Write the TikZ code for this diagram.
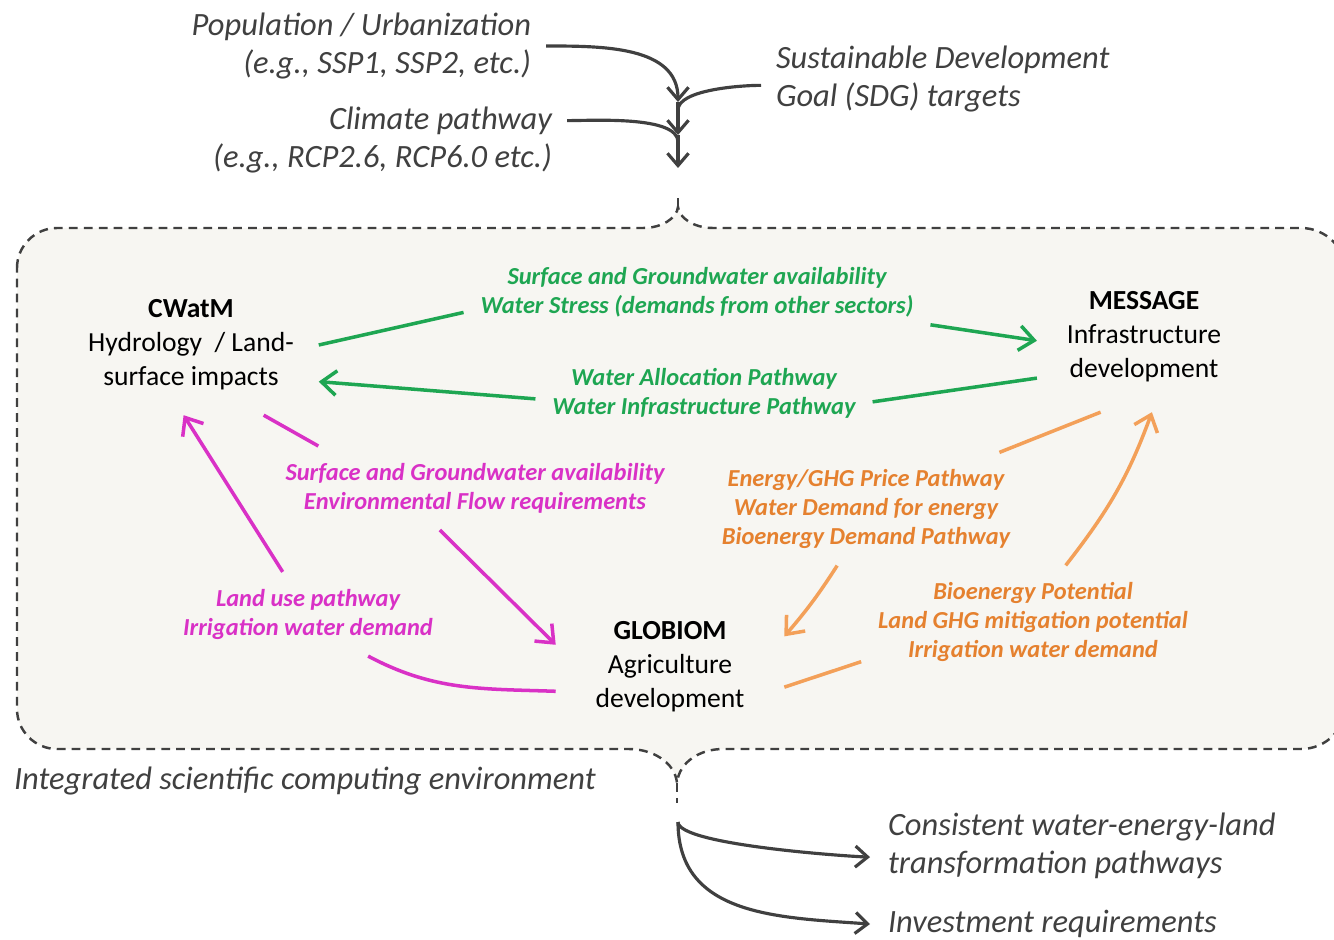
\documentclass[tikz,border=0pt]{standalone}
\usepackage{fontspec}
\setmainfont{Carlito}
\usetikzlibrary{arrows.meta}
\definecolor{wgreen}{HTML}{1EA652}
\definecolor{lmagenta}{HTML}{D931C6}
\definecolor{etext}{HTML}{E5812F}
\definecolor{eline}{HTML}{F3A059}
\definecolor{boxfill}{HTML}{F7F6F2}
\definecolor{darkline}{HTML}{404040}
\begin{document}
\begin{tikzpicture}[x=0.02cm, y=-0.02cm,
  frame/.style={draw=darkline, line width=1.4pt, dash pattern=on 5pt off 3.5pt},
  flow/.style={draw=darkline, line width=1.8pt},
  tip/.style={-{Straight Barb[length=7pt,width=12pt]}},
  ctip/.style={-{Straight Barb[length=8.5pt,width=14pt]}},
  intext/.style={inner sep=0, outer sep=0.3cm, text=darkline, font=\fontsize{18.5}{21.5}\selectfont\itshape},
  model/.style={inner sep=0, outer sep=0.5cm, align=center, font=\fontsize{15.7}{19.3}\selectfont},
  link/.style={inner sep=0, outer sep=0.34cm, align=center, font=\fontsize{13.9}{16.5}\selectfont\bfseries\itshape},
  wlink/.style={draw=wgreen, line width=2pt},
  mlink/.style={draw=lmagenta, line width=2pt},
  olink/.style={draw=eline, line width=2pt}]
\useasboundingbox (0,0) rectangle (1334,939);

\filldraw[frame, fill=boxfill] (17,268) .. controls (17,246) and (35,228) .. (57,228) -- (643,228) .. controls (662,228) and (677,218) .. (678,207) .. controls (679,218) and (694,228) .. (713,228) -- (1301,228) .. controls (1326,228) and (1346,248) .. (1346,273) -- (1346,704) .. controls (1346,729) and (1326,749) .. (1301,749) -- (723,749) .. controls (700,749) and (679,762) .. (677,783) .. controls (675,762) and (652,749) .. (629,749) -- (57,749) .. controls (35,749) and (17,731) .. (17,709) -- cycle;
\draw[frame] (678,207) -- (678,193);
\draw[frame] (677,783) -- (677,803);

\node (pop) [intext, align=right, anchor=east] at (546,46) {Population / Urbanization\\(e.g., SSP1, SSP2, etc.)};
\node (clim) [intext, align=right, anchor=east] at (567,140) {Climate pathway\\(e.g., RCP2.6, RCP6.0 etc.)};
\node (sdg) [intext, align=left, anchor=west] at (761,79) {Sustainable Development\\Goal (SDG) targets};
\coordinate (t1) at (678,102);
\coordinate (t2) at (678,135);
\coordinate (t3) at (678,168);
\coordinate (j2) at (678,110);
\coordinate (j3) at (678,142);

\draw[flow, tip] (pop.east) to[out=0, in=90] (t1);
\draw[flow, tip] (t1) -- (t2);
\draw[flow, tip] (t2) -- (t3);
\draw[flow] (sdg.182) to[out=180, in=90, looseness=0.6] (j2);
\draw[flow] (clim.6) to[out=0, in=90, looseness=0.6] (j3);

\node (cwatm) [model] at (191,345) {\textbf{CWatM}\\Hydrology~ / Land-\\surface impacts};
\node (msg) [model, outer sep=0.6cm] at (1144,337) {\textbf{MESSAGE}\\Infrastructure\\development};
\node (glob) [model, outer sep=0.8cm] at (670,667) {\textbf{GLOBIOM}\\Agriculture\\development};

\node (sgw) [link, text=wgreen] at (697,292) {Surface and Groundwater availability\\Water Stress (demands from other sectors)};
\node (wap) [link, text=wgreen] at (704,393) {Water Allocation Pathway\\Water Infrastructure Pathway};
\node (efr) [link, text=lmagenta] at (475,488) {Surface and Groundwater availability\\Environmental Flow requirements};
\node (lup) [link, text=lmagenta] at (308,614) {Land use pathway\\Irrigation water demand};
\node (ghg) [link, text=etext] at (866,509) {Energy/GHG Price Pathway\\Water Demand for energy\\Bioenergy Demand Pathway};
\node (bio) [link, text=etext] at (1033,622) {Bioenergy Potential\\Land GHG mitigation potential\\Irrigation water demand};

\draw[wlink] (cwatm.east) -- (sgw.185);
\draw[wlink, ctip] (sgw.-8) -- (msg.182);
\draw[wlink] (msg.-159) -- (wap.-3);
\draw[wlink, ctip] (wap.182) -- (cwatm.-16);
\draw[mlink] (cwatm.-44) -- (efr.165);
\draw[mlink, ctip] (efr.-130) -- (glob.169);
\draw[mlink] (glob.192) to[out=178, in=-28] (lup.-35);
\draw[mlink, ctip] (lup.121) -- (cwatm.-96);
\draw[olink] (msg.-120) -- (ghg.23);
\draw[olink, ctip] (ghg.-117) to[bend left=4] (glob.15);
\draw[olink] (glob.-10) -- (bio.193);
\draw[olink, ctip] (bio.60) to[out=52, in=-110] (msg.-84);

\node (env) [intext, anchor=west, outer sep=0] at (14,781) {Integrated scientific computing environment};
\node (pw) [intext, align=left, anchor=west, outer sep=0.36cm] at (870,846) {Consistent water-energy-land\\transformation pathways};
\node (inv) [intext, anchor=west, outer sep=0.36cm] at (870,924) {Investment requirements};
\coordinate (stem) at (678,822);
\draw[flow, tip] (stem) to[out=-90, in=178, looseness=0.3] (pw.183);
\draw[flow, tip] (stem) to[out=-90, in=176, looseness=1.1] (inv.west);
\end{tikzpicture}
\end{document}
